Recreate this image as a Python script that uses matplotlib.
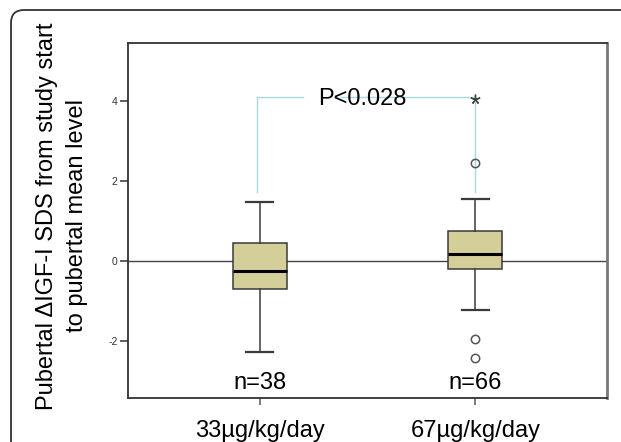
import matplotlib
matplotlib.use("Agg")
import matplotlib.pyplot as plt
from matplotlib.patches import FancyBboxPatch

plt.rcParams['font.family'] = ['Liberation Sans', 'DejaVu Sans']

# 数据
groups = ['33µg/kg/day', '67µg/kg/day']
n_labels = ['n=38', 'n=66']
medians = [-0.25, 0.17]
q1 = [-0.70, -0.20]
q3 = [0.45, 0.75]
whislo = [-2.28, -1.22]
whishi = [1.47, 1.55]
outliers = [[], [2.45, -1.95, -2.42]]
extremes = [[], [4.05]]
p_text = 'P<0.028'

box_color = '#d4cf99'
edge_color = '#3a3a3a'
bracket_color = '#a9d9de'

fig = plt.figure(figsize=(6.21, 4.42), dpi=100)

# 外框（圆角）
frame = FancyBboxPatch((0.11, -0.6), 7.0, 4.92, boxstyle='round,pad=0,rounding_size=0.13',
                       transform=fig.dpi_scale_trans, fill=False, edgecolor='#333333', linewidth=1.3)
fig.patches.append(frame)

ax = fig.add_axes([128 / 621, 44 / 442, 479 / 621, 355 / 442])

stats = []
for i in range(len(groups)):
    stats.append({'med': medians[i], 'q1': q1[i], 'q3': q3[i],
                  'whislo': whislo[i], 'whishi': whishi[i], 'fliers': outliers[i]})
positions = list(range(1, len(groups) + 1))
ax.bxp(stats, positions=positions, widths=0.25, capwidths=0.125, patch_artist=True,
       boxprops=dict(facecolor=box_color, edgecolor=edge_color, linewidth=1.1),
       medianprops=dict(color='black', linewidth=2.2),
       whiskerprops=dict(color=edge_color, linewidth=1.1),
       capprops=dict(color=edge_color, linewidth=1.6),
       flierprops=dict(marker='o', markerfacecolor='none', markeredgecolor='#555555',
                       markersize=6, markeredgewidth=1.1),
       zorder=3)

# 极端值（星号）
for i, vals in enumerate(extremes):
    for v in vals:
        ax.plot(positions[i], v, marker=(5, 2, 0), color='#444444', markersize=7,
                markeredgewidth=1.0, zorder=4)

ax.axhline(0, color='#444444', linewidth=1.0, zorder=1)

# 显著性括号
x1, x2 = 0.99, 2.0
ytop, ybot = 4.1, 1.72
ax.plot([x1, x1, 1.2], [ybot, ytop, ytop], color=bracket_color, linewidth=1.0, zorder=2)
ax.plot([1.375, x2, x2], [ytop, ytop, ybot], color=bracket_color, linewidth=1.0, zorder=2)
ax.text(1.477, 4.05, p_text, ha='center', va='center', fontsize=17)

for i, t in enumerate(n_labels):
    ax.text(positions[i], -3.05, t, ha='center', va='center', fontsize=17)

ax.set_xlim(0.39, 2.61)
ax.set_ylim(-3.43, 5.45)
ax.set_yticks([-2, 0, 2, 4])
ax.set_yticklabels(['-2', '0', '2', '4'], fontsize=7.5, color='#333333')
ax.set_xticks(positions)
ax.set_xticklabels(groups, fontsize=17)
ax.tick_params(axis='y', length=5.5, width=1.2, color='#444444', pad=2)
ax.tick_params(axis='x', length=5, width=1.2, color='#666666', pad=11)
for s in ax.spines.values():
    s.set_color('#333333')
    s.set_linewidth(1.3)
ax.spines['right'].set_color('#777777')
ax.spines['right'].set_linewidth(2)

fig.text(62 / 621, 1 - 216 / 442, 'Pubertal ΔIGF-I SDS from study start\nto pubertal mean level',
         rotation=90, ha='center', va='center', multialignment='center', fontsize=17, linespacing=1.5)

fig.savefig('out.png', dpi=100)
